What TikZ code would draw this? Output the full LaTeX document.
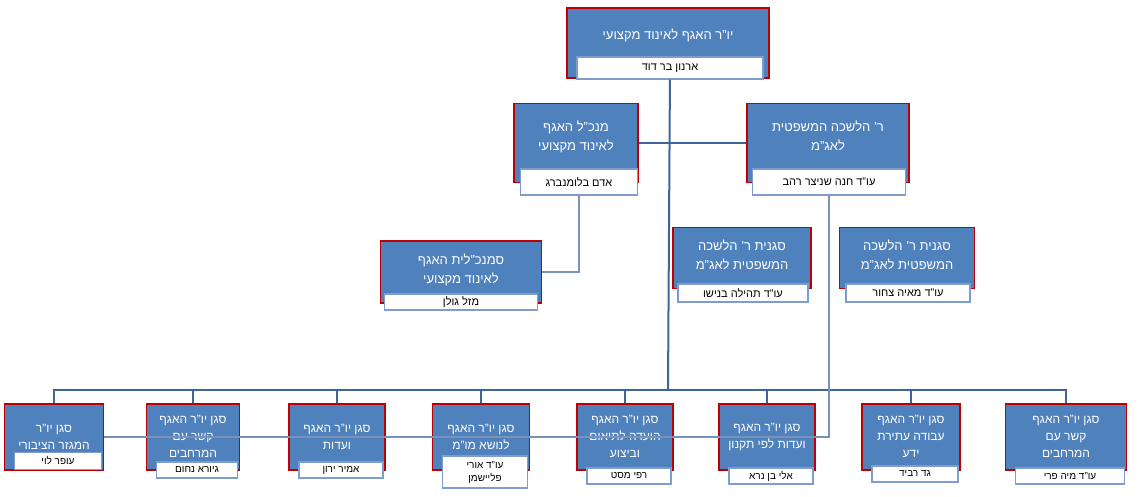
\documentclass[tikz,border=0pt]{standalone}
\usepackage{fontspec}
\setmainfont[Script=Hebrew]{Liberation Sans}
\TeXXeTstate=1
\usetikzlibrary{positioning}
\definecolor{boxblue}{HTML}{4F81BD}
\definecolor{boxred}{HTML}{C00000}
\definecolor{linkblue}{HTML}{3F649C}
\definecolor{namebox}{HTML}{7E9CCD}
\newcommand*{\heb}[1]{\beginR #1\endR}
\tikzstyle{role} = [draw=boxred, fill=boxblue, line width=1.6pt, text=white, align=center, font=\fontsize{13}{19}\selectfont, inner sep=2pt]
\tikzstyle{person} = [draw=namebox, fill=white, line width=1.2pt, align=center, font=\fontsize{11}{14}\selectfont, inner sep=1pt]
\tikzstyle{link} = [draw=linkblue, line width=2pt]
\tikzstyle{thin link} = [draw=linkblue!70, line width=1.4pt]

\begin{document}
\begin{tikzpicture}[x=1pt, y=-1pt]
    \useasboundingbox (0,0) rectangle (1140,497);
    % Head.
    \node (head) [role, minimum width=202pt, minimum height=70pt, text depth=18pt] at (668,43) {\heb{יו"ר האגף לאינוד מקצועי}};
    \node (headname) [person, minimum width=186pt, minimum height=22pt] at (670,68) {\heb{ארנון בר דוד}};

    % Second level.
    \node (mgr) [role, minimum width=124pt, minimum height=79pt, text depth=14pt] at (576,143) {\heb{מנכ"ל האגף}\\\heb{לאינוד מקצועי}};
    \node (mgrname) [person, minimum width=117pt, minimum height=26pt] at (579,182) {\heb{אדם בלומנברג}};
    \node (legal) [role, minimum width=162pt, minimum height=79pt, text depth=14pt] at (828,143) {\heb{ר' הלשכה המשפטית}\\\heb{לאג"מ}};
    \node (legalname) [person, minimum width=153pt, minimum height=26pt] at (829,182) {\heb{עו"ד חנה שניצר רהב}};

    % Third level.
    \node (submgr) [role, minimum width=161pt, minimum height=62pt, text depth=6pt] at (461,272) {\heb{סמנכ"לית האגף}\\\heb{לאינוד מקצועי}};
    \node (submgrname) [person, minimum width=153pt, minimum height=16pt] at (461,302) {\heb{מזל גולן}};
    \node (dep1) [role, minimum width=138pt, minimum height=61pt, text depth=6pt] at (742,258) {\heb{סגנית ר' הלשכה}\\\heb{המשפטית לאג"מ}};
    \node (dep1name) [person, minimum width=130pt, minimum height=18pt] at (743,293) {\heb{עו"ד תהילה בנישו}};
    \node (dep2) [role, minimum width=135pt, minimum height=61pt, text depth=6pt] at (907,258) {\heb{סגנית ר' הלשכה}\\\heb{המשפטית לאג"מ}};
    \node (dep2name) [person, minimum width=124pt, minimum height=18pt] at (908,293) {\heb{עו"ד מאיה צחור}};

    % Deputies of the head.
    \foreach \i/\x/\w/\t/\n/\ny/\nh in {
        1/54/99/{\heb{סגן יו"ר}\\\heb{המגזר הציבורי}}/{\heb{עופר לוי}}/461/17,
        2/193/93/{\heb{סגן יו"ר האגף}\\\heb{קשר עם}\\\heb{המרחבים}}/{\heb{גיורא נחום}}/470/16,
        3/337/96/{\heb{סגן יו"ר האגף}\\\heb{ועדות}}/{\heb{אמיר ירון}}/470/16,
        4/481/97/{\heb{סגן יו"ר האגף}\\\heb{לנושא מו"מ}}/{\heb{עו"ד אורי}\\\heb{פליישמן}}/472/32,
        5/625/96/{\heb{סגן יו"ר האגף}\\\heb{הועדה לתיאום}\\\heb{וביצוע}}/{\heb{רפי מסט}}/476/16,
        6/767/96/{\heb{סגן יו"ר האגף}\\\heb{ועדות לפי תקנון}}/{\heb{אלי בן נרא}}/476/16,
        7/911/98/{\heb{סגן יו"ר האגף}\\\heb{עבודה עתירת}\\\heb{ידע}}/{\heb{גד רביד}}/474/16,
        8/1066/121/{\heb{סגן יו"ר האגף}\\\heb{קשר עם}\\\heb{המרחבים}}/{\heb{עו"ד מיה פרי}}/476/16} {
        \node (dep\i) [role, minimum width=\w pt, minimum height=66pt, anchor=north, font=\fontsize{12}{17}\selectfont] at (\x,403) {\t};
        \node (dep\i name) [person, minimum width=\w pt-12pt, minimum height=\nh pt, font=\fontsize{10}{13}\selectfont] at (\x+4,\ny) {\n};
    }

    % Links.
    \coordinate (bus) at (668,390);
    \draw [link] (headname) -- (bus);
    \draw [link] (mgr.east) -- (legal.west);
    \foreach \i in {1, ..., 8} {
        \draw [link] (bus) -| (dep\i.north);
    }
    \draw [thin link] (mgrname.south) |- (submgr.east);
    \draw [thin link] (legalname.south) |- (dep1.east);
    \draw [thin link] (dep1.east) -- (dep2.west);
\end{tikzpicture}
\end{document}
